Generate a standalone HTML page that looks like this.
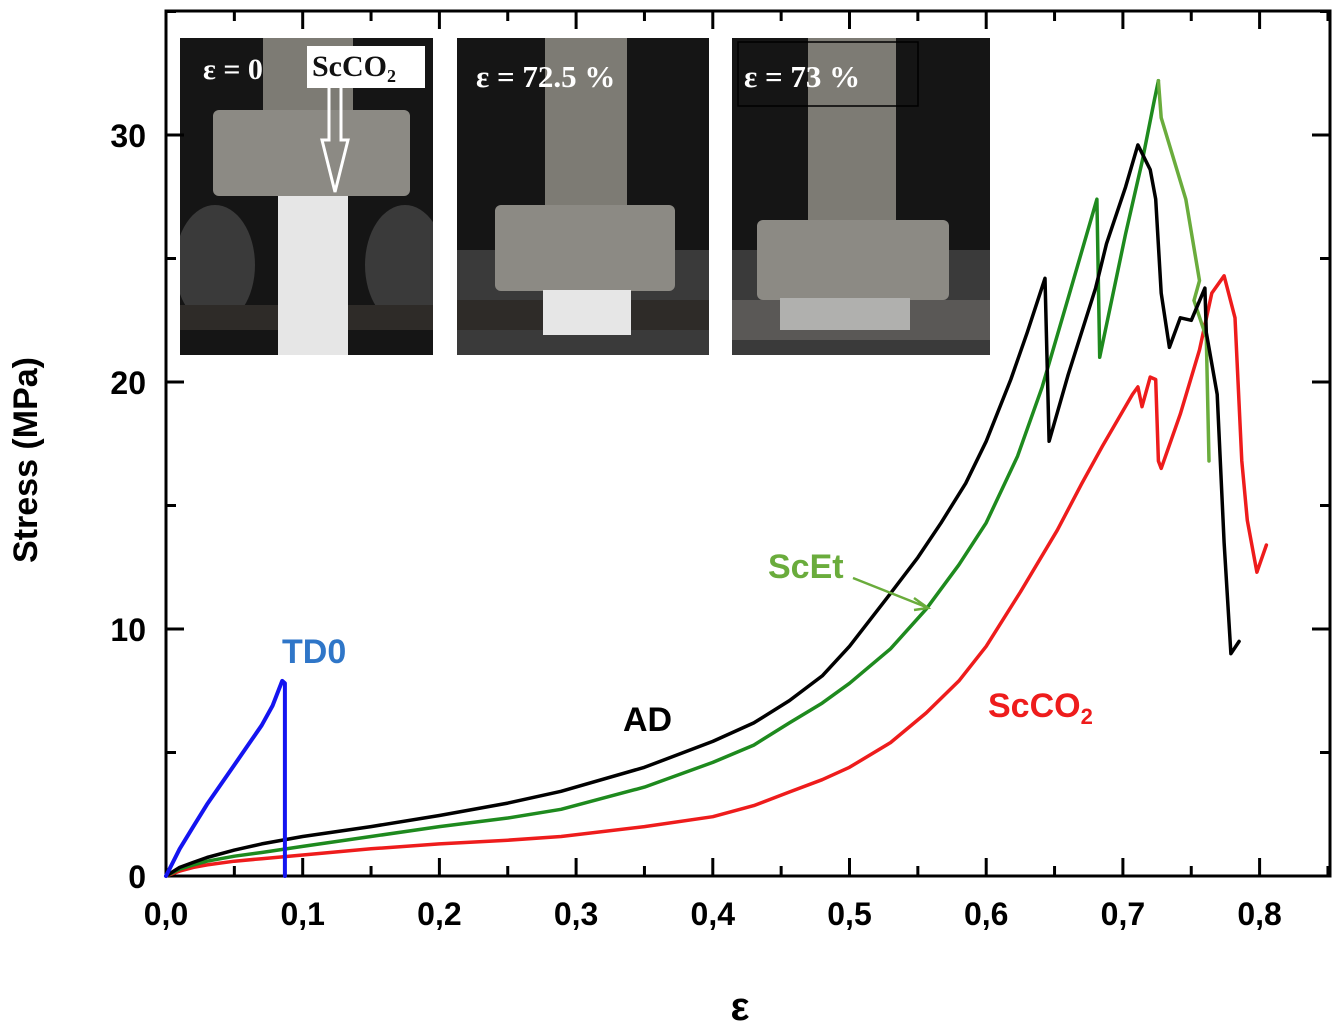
<!DOCTYPE html>
<html><head><meta charset="utf-8"><style>
html,body{margin:0;padding:0;background:#fff;}
svg{display:block;}
text{font-family:"Liberation Sans",sans-serif;}
text.serif{font-family:"Liberation Serif",serif;}
</style></head><body>
<svg id="chart" width="1341" height="1031" viewBox="0 0 1341 1031">
<defs>
 <clipPath id="c1"><rect x="180" y="38" width="253" height="317"/></clipPath>
</defs>
<g id="insets">
 <g clip-path="url(#c1)">
  <rect x="180" y="38" width="253" height="317" fill="#151515"/>
  <ellipse cx="215" cy="265" rx="40" ry="60" fill="#3a3a3a"/>
  <ellipse cx="405" cy="265" rx="40" ry="60" fill="#3a3a3a"/>
  <rect x="263" y="38" width="90" height="75" fill="#7d7b74"/>
  <rect x="213" y="110" width="197" height="86" rx="6" fill="#8c8a84"/>
  <rect x="180" y="305" width="253" height="25" fill="#2e2b28"/>
  <rect x="278" y="196" width="70" height="159" fill="#e6e6e6"/>
  <text class="serif" x="203" y="79" fill="#fff" font-size="30" font-weight="bold">ε = 0</text>
  <rect x="307" y="46" width="118" height="42" fill="#fff"/>
  <text class="serif" x="312" y="76" fill="#111" font-size="30" font-weight="bold">ScCO<tspan font-size="18" dy="6">2</tspan></text>
  <path d="M329 88 V140 H322 L335 192 L348 140 H341 V88" fill="none" stroke="#fff" stroke-width="3"/>
 </g>
 <g>
  <rect x="457" y="38" width="252" height="317" fill="#151515"/>
  <rect x="457" y="250" width="252" height="105" fill="#3a3a3a"/>
  <rect x="545" y="38" width="82" height="170" fill="#7d7b74"/>
  <rect x="495" y="205" width="180" height="86" rx="6" fill="#8c8a84"/>
  <rect x="457" y="300" width="252" height="30" fill="#2e2b28"/>
  <rect x="543" y="290" width="88" height="45" fill="#e6e6e6"/>
  <text class="serif" x="476" y="87" fill="#fff" font-size="31" font-weight="bold">ε = 72.5 %</text>
 </g>
 <g>
  <rect x="732" y="38" width="258" height="317" fill="#151515"/>
  <rect x="732" y="250" width="258" height="105" fill="#3a3a3a"/>
  <rect x="808" y="38" width="88" height="185" fill="#7d7b74"/>
  <rect x="757" y="220" width="192" height="80" rx="6" fill="#8c8a84"/>
  <rect x="732" y="300" width="258" height="40" fill="#5a5856"/>
  <rect x="780" y="298" width="130" height="32" fill="#b0b0ae"/>
  <rect x="738" y="42" width="180" height="64" fill="none" stroke="#000" stroke-width="1.5"/>
  <text class="serif" x="744" y="87" fill="#fff" font-size="31" font-weight="bold">ε = 73 %</text>
 </g>
</g>
<g id="axes"></g>
<g id="series"></g>
<g id="labels"></g>
</svg>
<script>
// ---- data ----
const xTicks = [0,0.1,0.2,0.3,0.4,0.5,0.6,0.7,0.8];
const xTickLabels = ["0,0","0,1","0,2","0,3","0,4","0,5","0,6","0,7","0,8"];
const yTicks = [0,10,20,30];
const yTickLabels = ["0","10","20","30"];
const tdStrain = [0,0.01,0.02,0.03,0.04,0.05,0.06,0.07,0.078,0.085,0.087,0.087];
const tdStress = [0,1.1,2.0,2.9,3.7,4.5,5.3,6.1,6.9,7.9,7.8,0];
const adStrain = [0,0.01,0.02,0.03,0.05,0.07,0.1,0.15,0.2,0.25,0.289,0.35,0.4,0.43,0.456,0.48,0.5,0.528,0.55,0.567,0.585,0.6,0.618,0.63,0.643,0.646,0.66,0.68,0.688,0.702,0.711,0.72,0.724,0.728,0.734,0.742,0.75,0.76,0.761,0.769,0.774,0.779,0.785];
const adStress = [0,0.35,0.55,0.75,1.05,1.3,1.6,2.0,2.45,2.95,3.43,4.4,5.45,6.2,7.1,8.1,9.3,11.3,12.9,14.3,15.9,17.6,20.1,22.0,24.2,17.6,20.3,23.8,25.6,27.9,29.6,28.6,27.4,23.6,21.4,22.6,22.5,23.8,22.0,19.5,13.5,9.0,9.5];
const etStrain = [0,0.01,0.02,0.03,0.05,0.07,0.1,0.15,0.2,0.25,0.289,0.35,0.4,0.43,0.456,0.48,0.5,0.53,0.556,0.58,0.6,0.623,0.641,0.66,0.681,0.683,0.702,0.714,0.723,0.726];
const etStress = [0,0.28,0.45,0.6,0.8,0.95,1.2,1.6,2.0,2.35,2.7,3.6,4.6,5.3,6.2,7.0,7.8,9.2,10.8,12.6,14.3,17.0,19.8,23.4,27.4,21.0,26.0,28.9,31.4,32.2];
const etDropStrain = [0.726,0.728,0.746,0.756,0.752,0.761,0.763];
const etDropStress = [32.2,30.7,27.4,24.1,23.3,21.8,16.8];
const co2Strain = [0,0.01,0.02,0.03,0.05,0.07,0.1,0.15,0.2,0.25,0.289,0.35,0.4,0.43,0.456,0.48,0.5,0.53,0.556,0.58,0.6,0.625,0.652,0.67,0.685,0.707,0.711,0.714,0.72,0.724,0.726,0.728,0.742,0.756,0.765,0.774,0.782,0.787,0.791,0.798,0.805];
const co2Stress = [0,0.2,0.35,0.45,0.6,0.7,0.85,1.1,1.3,1.45,1.6,2.0,2.4,2.85,3.4,3.9,4.4,5.4,6.6,7.9,9.3,11.5,14.0,15.9,17.4,19.5,19.8,19.0,20.2,20.1,16.8,16.5,18.7,21.3,23.6,24.3,22.6,16.8,14.4,12.3,13.4];

// ---- scales ----
const X0 = 166, XS = 1367, Y0 = 876, YS = 24.7;
const sx = v => X0 + v * XS;
const sy = v => Y0 - v * YS;
const NS = "http://www.w3.org/2000/svg";
function mk(tag, attrs, parent) {
  const e = document.createElementNS(NS, tag);
  for (const k in attrs) e.setAttribute(k, attrs[k]);
  parent.appendChild(e);
  return e;
}
const axes = document.getElementById('axes');
const series = document.getElementById('series');
const labels = document.getElementById('labels');

const frame = mk('rect', {x:166, y:11, width:1164, height:865, fill:'none', stroke:'#000', 'stroke-width':3}, axes);



for (let i = 0; i < xTicks.length; i++) {
  const x = sx(xTicks[i]);
  const t = mk('line', {x1:x, x2:x, y1:Y0, y2:Y0-18, stroke:'#000', 'stroke-width':3}, axes);
  
  
  const t2 = mk('line', {x1:x, x2:x, y1:11, y2:29, stroke:'#000', 'stroke-width':3}, axes);
  
  
  const m = sx(xTicks[i] + 0.05);
  if (m < 1328) {
    const mt = mk('line', {x1:m, x2:m, y1:Y0, y2:Y0-10, stroke:'#000', 'stroke-width':3}, axes);
    
    
    const mt2 = mk('line', {x1:m, x2:m, y1:11, y2:21, stroke:'#000', 'stroke-width':3}, axes);
    
    
  }
  const lb = mk('text', {x:x, y:925, 'text-anchor':'middle', 'font-size':32, 'font-weight':'bold'}, labels);
  lb.textContent = xTickLabels[i];
  
  
}
for (let i = 0; i < yTicks.length; i++) {
  const y = sy(yTicks[i]);
  const t = mk('line', {x1:166, x2:184, y1:y, y2:y, stroke:'#000', 'stroke-width':3}, axes);
  
  
  const t2 = mk('line', {x1:1312, x2:1330, y1:y, y2:y, stroke:'#000', 'stroke-width':3}, axes);
  
  
  const my = sy(yTicks[i] + 5);
  const mt = mk('line', {x1:166, x2:176, y1:my, y2:my, stroke:'#000', 'stroke-width':3}, axes);
  
  
  const mt2 = mk('line', {x1:1320, x2:1330, y1:my, y2:my, stroke:'#000', 'stroke-width':3}, axes);
  
  
  const lb = mk('text', {x:146, y:y+12, 'text-anchor':'end', 'font-size':32, 'font-weight':'bold'}, labels);
  lb.textContent = yTickLabels[i];
  
  
}

function line(xs, ys, color, name, w) {
  const d = xs.map((v, i) => (i ? 'L' : 'M') + sx(v).toFixed(1) + ' ' + sy(ys[i]).toFixed(1)).join(' ');
  const p = mk('path', {d:d, fill:'none', stroke:color, 'stroke-width':w || 3.5, 'stroke-linejoin':'round', 'stroke-linecap':'round'}, series);
  
  
}
line(co2Strain, co2Stress, '#ee1c1c', 'scco2-curve');
line(etStrain, etStress, '#1e8a1e', 'scet-curve');
line(etDropStrain, etDropStress, '#6aac3c', 'scet-curve-failure');
line(adStrain, adStress, '#000', 'ad-curve');
line(tdStrain, tdStress, '#1414f0', 'td0-curve', 4);

function lab(x, y, txt, color, name, size) {
  const t = mk('text', {x:x, y:y, fill:color, 'font-size':size || 34, 'font-weight':'bold'}, labels);
  t.innerHTML = txt;
  
  
  return t;
}
lab(282, 663, 'TD0', '#2f76c8', 'td0-label');
lab(623, 731, 'AD', '#000', 'ad-label');
lab(768, 578, 'ScEt', '#6aac3c', 'scet-label');
lab(988, 717, 'ScCO<tspan font-size="22" dy="7">2</tspan>', '#ee1c1c', 'scco2-label');
const arr = mk('path', {d:'M853 578 L926 607 M914 598 L928 608 L914 610', fill:'none', stroke:'#6aac3c', 'stroke-width':2.5}, labels);



const xt = mk('text', {x:740, y:1020, 'text-anchor':'middle', 'font-size':40, 'font-weight':'bold'}, labels);
xt.textContent = 'ε';


const yt = mk('text', {x:0, y:0, 'text-anchor':'middle', 'font-size':34, 'font-weight':'bold', transform:'translate(37,460) rotate(-90)'}, labels);
yt.textContent = 'Stress (MPa)';


</script>
</body></html>
